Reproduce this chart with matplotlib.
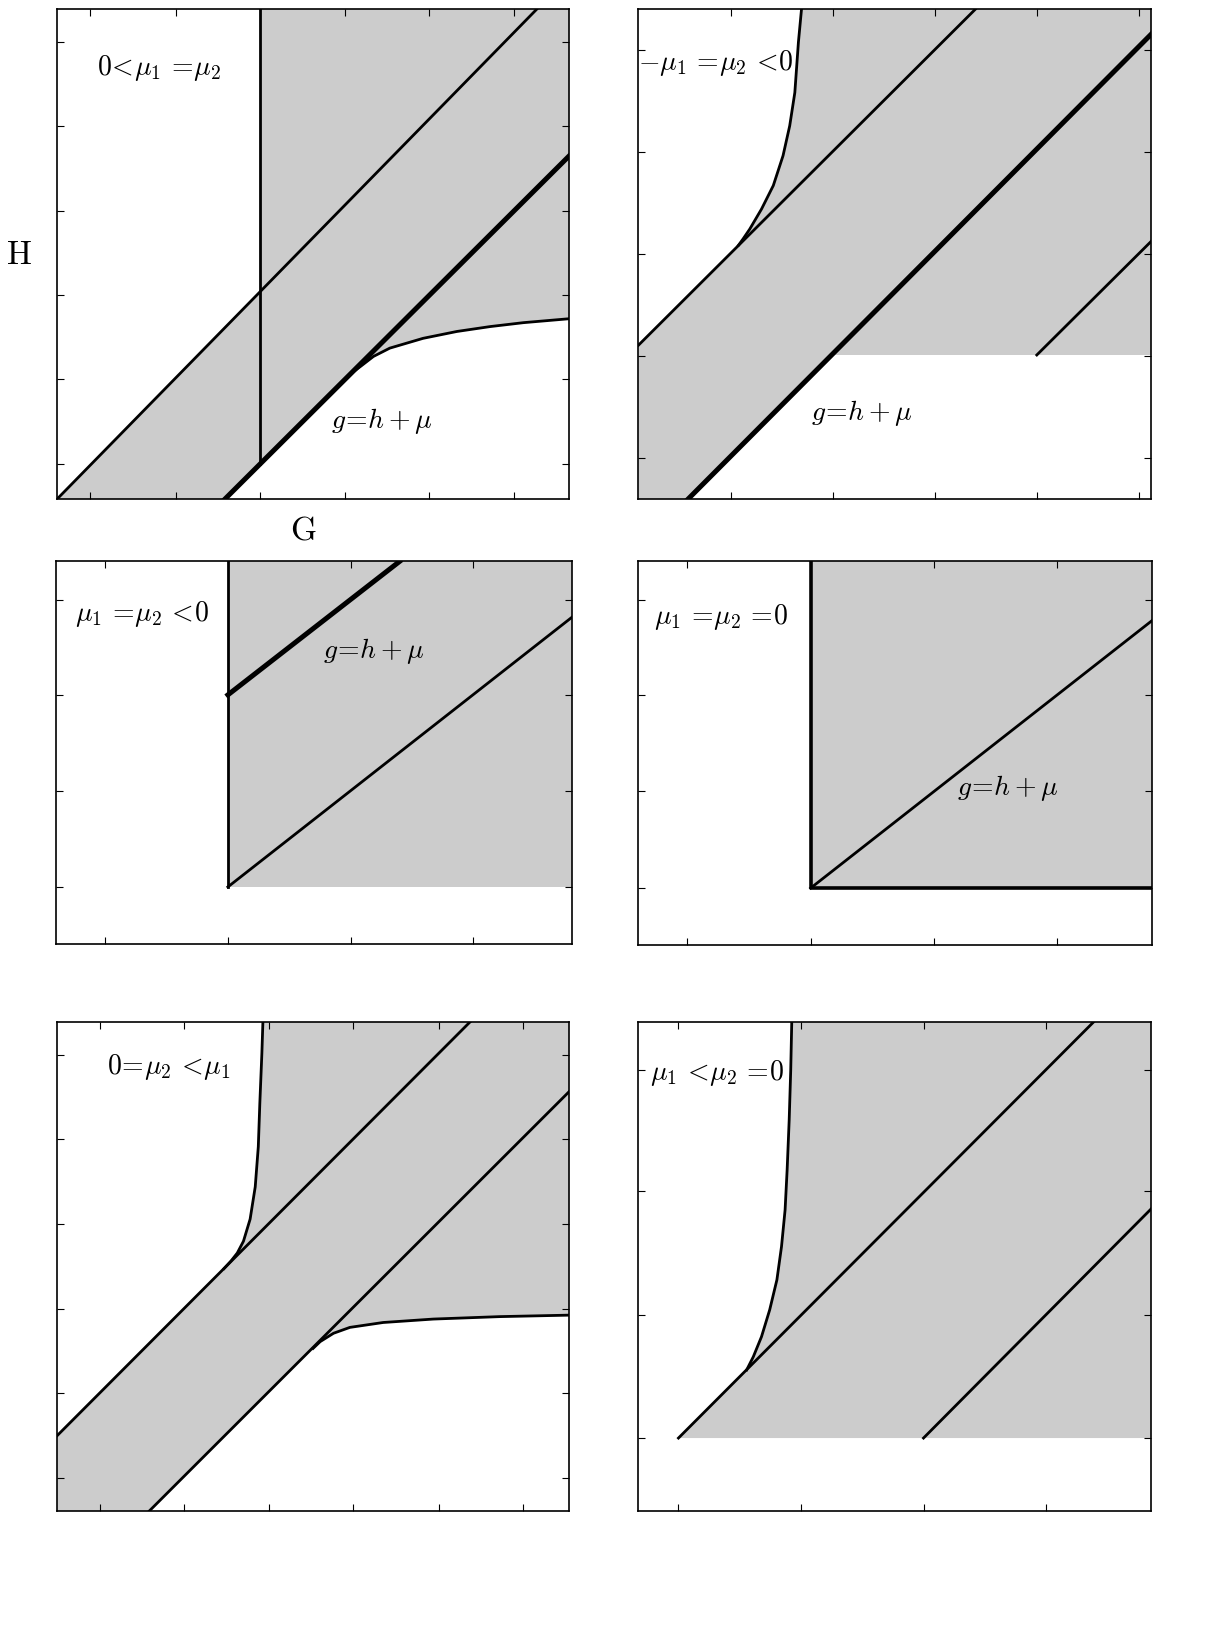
import matplotlib
matplotlib.use('Agg')
import matplotlib.pyplot as plt

plt.rcParams['mathtext.fontset'] = 'cm'
plt.rcParams['font.family'] = 'serif'
plt.rcParams['font.serif'] = ['DejaVu Serif']

GRAY = '#cccccc'

# ---- panel 1: 0 < mu1 = mu2
p1_xticks = [0.065, 0.233, 0.397, 0.563, 0.727, 0.893]
p1_yticks = [0.071, 0.244, 0.416, 0.589, 0.761, 0.933]
p1_thin_x = [0.0, 0.937]
p1_thin_y = [0.0, 1.0]
p1_thick_x = [0.328, 1.0]
p1_thick_y = [0.0, 0.70]
p1_vert_x = [0.397, 0.397]
p1_vert_y = [0.072, 1.0]
p1_curve_x = [0.575, 0.592, 0.618, 0.650, 0.715, 0.781, 0.846, 0.911, 1.0]
p1_curve_y = [0.257, 0.270, 0.291, 0.308, 0.328, 0.342, 0.352, 0.360, 0.368]
p1_fill_x = [0.0, 0.397, 0.397, 1.0] + p1_curve_x[::-1] + [0.328]
p1_fill_y = [0.0, 0.424, 1.0, 1.0] + p1_curve_y[::-1] + [0.0]

# ---- panel 2: -mu1 = mu2 < 0
p2_xticks = [0.181, 0.380, 0.579, 0.777, 0.977]
p2_yticks = [0.084, 0.292, 0.500, 0.708, 0.916]
p2_thick_x = [0.097, 1.0]
p2_thick_y = [0.0, 0.949]
p2_thin_x = [0.0, 0.657]
p2_thin_y = [0.314, 1.0]
p2_short_x = [0.777, 1.0]
p2_short_y = [0.294, 0.526]
p2_curve_x = [0.195, 0.204, 0.217, 0.240, 0.263, 0.282, 0.295, 0.305, 0.312, 0.318]
p2_curve_y = [0.518, 0.531, 0.551, 0.592, 0.640, 0.701, 0.762, 0.830, 0.933, 1.0]
p2_fill_x = [0.0, 0.097, 0.377, 1.0, 1.0] + p2_curve_x[::-1] + [0.0]
p2_fill_y = [0.0, 0.0, 0.294, 0.294, 1.0] + p2_curve_y[::-1] + [0.314]

# ---- panel 3: mu1 = mu2 < 0
p3_xticks = [0.095, 0.333, 0.571, 0.808]
p3_yticks = [0.149, 0.401, 0.650, 0.900]
p3_vert_x = [0.333, 0.333]
p3_vert_y = [0.149, 1.0]
p3_thick_x = [0.333, 0.666]
p3_thick_y = [0.651, 1.0]
p3_thin_x = [0.333, 1.0]
p3_thin_y = [0.149, 0.854]
p3_fill_x = [0.333, 1.0, 1.0, 0.333]
p3_fill_y = [0.149, 0.149, 1.0, 1.0]

# ---- panel 4: mu1 = mu2 = 0
p4_xticks = [0.095, 0.335, 0.575, 0.814]
p4_yticks = [0.148, 0.400, 0.651, 0.900]
p4_corner_x = [0.335, 0.335, 1.0]
p4_corner_y = [1.0, 0.148, 0.148]
p4_thin_x = [0.335, 1.0]
p4_thin_y = [0.148, 0.846]
p4_fill_x = [0.335, 1.0, 1.0, 0.335]
p4_fill_y = [0.148, 0.148, 1.0, 1.0]

# ---- panel 5: 0 = mu2 < mu1
p5_xticks = [0.084, 0.247, 0.413, 0.579, 0.746, 0.910]
p5_yticks = [0.068, 0.242, 0.414, 0.587, 0.760, 0.933]
p5_upper_x = [0.0, 0.807]
p5_upper_y = [0.155, 1.0]
p5_lower_x = [0.179, 1.0]
p5_lower_y = [0.0, 0.857]
p5_curve1_x = [0.326, 0.340, 0.352, 0.364, 0.377, 0.387, 0.393, 0.396, 0.400, 0.402]
p5_curve1_y = [0.496, 0.512, 0.528, 0.552, 0.597, 0.663, 0.745, 0.834, 0.936, 1.0]
p5_curve2_x = [0.500, 0.514, 0.540, 0.572, 0.637, 0.735, 0.865, 1.0]
p5_curve2_y = [0.333, 0.347, 0.364, 0.376, 0.386, 0.393, 0.398, 0.401]
p5_fill_x = [0.0, 0.179] + p5_curve2_x + [1.0] + p5_curve1_x[::-1] + [0.0]
p5_fill_y = [0.0, 0.0] + p5_curve2_y + [1.0] + p5_curve1_y[::-1] + [0.155]

# ---- panel 6: mu1 < mu2 = 0
p6_xticks = [0.078, 0.317, 0.556, 0.794]
p6_yticks = [0.150, 0.401, 0.654, 0.902]
p6_a_x = [0.078, 0.888]
p6_a_y = [0.150, 1.0]
p6_b_x = [0.556, 1.0]
p6_b_y = [0.150, 0.618]
p6_curve_x = [0.211, 0.224, 0.240, 0.256, 0.270, 0.279, 0.286, 0.290, 0.294, 0.297, 0.299]
p6_curve_y = [0.289, 0.316, 0.357, 0.412, 0.473, 0.541, 0.616, 0.698, 0.800, 0.902, 1.0]
p6_fill_x = [0.078, 1.0, 1.0] + p6_curve_x[::-1]
p6_fill_y = [0.150, 0.150, 1.0] + p6_curve_y[::-1]

fig = plt.figure(figsize=(12.25, 16.30), dpi=100)

TXT = 20
THIN = 2.0
THICK = 3.6


def make_axes(rect, xticks, yticks):
    ax = fig.add_axes(rect)
    ax.set_xlim(0, 1)
    ax.set_ylim(0, 1)
    ax.set_xticks(xticks)
    ax.set_yticks(yticks)
    ax.tick_params(direction='in', length=5, width=0.8, top=True, right=True,
                   labelbottom=False, labelleft=False)
    for s in ax.spines.values():
        s.set_linewidth(1.2)
    return ax


def fill(ax, xs, ys):
    ax.fill(xs, ys, color=GRAY, lw=0, zorder=1)


# panel 1
ax1 = make_axes([0.0467, 0.6939, 0.4177, 0.3004], p1_xticks, p1_yticks)
fill(ax1, p1_fill_x, p1_fill_y)
ax1.plot(p1_thin_x, p1_thin_y, 'k', lw=THIN)
ax1.plot(p1_vert_x, p1_vert_y, 'k', lw=THIN)
ax1.plot(p1_thick_x, p1_thick_y, 'k', lw=THICK)
ax1.plot(p1_curve_x, p1_curve_y, 'k', lw=THIN, solid_joinstyle='round')
ax1.text(0.20, 0.88, r'$0\!<\!\mu_1\,=\!\mu_2$', fontsize=TXT, ha='center', va='center')
ax1.text(0.635, 0.16, r'$g\!=\!h+\mu$', fontsize=TXT, ha='center', va='center')

# panel 2
ax2 = make_axes([0.5212, 0.6939, 0.4185, 0.3004], p2_xticks, p2_yticks)
fill(ax2, p2_fill_x, p2_fill_y)
ax2.plot(p2_thin_x, p2_thin_y, 'k', lw=THIN)
ax2.plot(p2_short_x, p2_short_y, 'k', lw=THIN)
ax2.plot(p2_thick_x, p2_thick_y, 'k', lw=THICK)
ax2.plot(p2_curve_x, p2_curve_y, 'k', lw=THIN, solid_joinstyle='round')
ax2.text(0.15, 0.89, r'$-\mu_1\,=\!\mu_2\,<\!0$', fontsize=TXT, ha='center', va='center')
ax2.text(0.436, 0.175, r'$g\!=\!h+\mu$', fontsize=TXT, ha='center', va='center')

# panel 3
ax3 = make_axes([0.0458, 0.4209, 0.4211, 0.2347], p3_xticks, p3_yticks)
fill(ax3, p3_fill_x, p3_fill_y)
ax3.plot(p3_vert_x, p3_vert_y, 'k', lw=THIN)
ax3.plot(p3_thin_x, p3_thin_y, 'k', lw=THIN)
ax3.plot(p3_thick_x, p3_thick_y, 'k', lw=THICK)
ax3.text(0.166, 0.863, r'$\mu_1\,=\!\mu_2\,<\!0$', fontsize=TXT, ha='center', va='center')
ax3.text(0.617, 0.767, r'$g\!=\!h+\mu$', fontsize=TXT, ha='center', va='center')

# panel 4
ax4 = make_axes([0.5212, 0.4203, 0.4194, 0.2353], p4_xticks, p4_yticks)
fill(ax4, p4_fill_x, p4_fill_y)
ax4.plot(p4_thin_x, p4_thin_y, 'k', lw=THIN)
ax4.plot(p4_corner_x, p4_corner_y, 'k', lw=2.6)
ax4.text(0.16, 0.856, r'$\mu_1\,=\!\mu_2\,=\!0$', fontsize=TXT, ha='center', va='center')
ax4.text(0.72, 0.41, r'$g\!=\!h+\mu$', fontsize=TXT, ha='center', va='center')

# panel 5
ax5 = make_axes([0.0467, 0.0727, 0.4177, 0.3004], p5_xticks, p5_yticks)
fill(ax5, p5_fill_x, p5_fill_y)
ax5.plot(p5_upper_x, p5_upper_y, 'k', lw=THIN)
ax5.plot(p5_lower_x, p5_lower_y, 'k', lw=THIN)
ax5.plot(p5_curve1_x, p5_curve1_y, 'k', lw=THIN, solid_joinstyle='round')
ax5.plot(p5_curve2_x, p5_curve2_y, 'k', lw=THIN, solid_joinstyle='round')
ax5.text(0.219, 0.907, r'$0\!=\!\mu_2\,<\!\mu_1$', fontsize=TXT, ha='center', va='center')

# panel 6
ax6 = make_axes([0.5212, 0.0727, 0.4185, 0.3004], p6_xticks, p6_yticks)
fill(ax6, p6_fill_x, p6_fill_y)
ax6.plot(p6_a_x, p6_a_y, 'k', lw=THIN)
ax6.plot(p6_b_x, p6_b_y, 'k', lw=THIN)
ax6.plot(p6_curve_x, p6_curve_y, 'k', lw=THIN, solid_joinstyle='round')
ax6.text(0.153, 0.896, r'$\mu_1\,<\!\mu_2\,=\!0$', fontsize=TXT, ha='center', va='center')

# axis letters
fig.text(0.0153, 0.8438, r'$\mathrm{H}$', fontsize=24, ha='center', va='center')
fig.text(0.2479, 0.6747, r'$\mathrm{G}$', fontsize=24, ha='center', va='center')

fig.savefig('out.png', dpi=100)
